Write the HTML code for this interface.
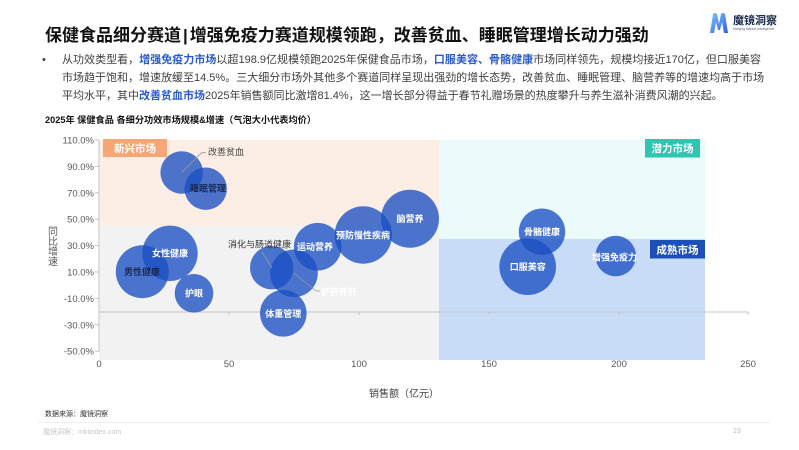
<!DOCTYPE html>
<html><head><meta charset="utf-8">
<style>
html,body{margin:0;padding:0;background:#fff;}
body{width:799px;height:450px;position:relative;overflow:hidden;font-family:"Liberation Sans","Noto Sans CJK SC",sans-serif;}
.abs{position:absolute;white-space:nowrap;}
.title{left:45px;top:24px;font-size:17px;font-weight:bold;color:#111;line-height:24px;}
.body{left:62px;top:51px;width:699px;font-size:11px;color:#404040;line-height:18px;}
.body div{text-align:justify;text-align-last:justify;white-space:nowrap;}
.body div.last{text-align-last:left;}
.hl{color:#2a5cc9;font-weight:bold;}
.bullet{left:42px;top:51px;font-size:11px;line-height:18px;color:#404040;}
.sub{left:45px;top:113px;font-size:9.2px;font-weight:bold;color:#111;line-height:14px;}
</style></head><body>

<div class="abs title">保健食品细分赛道<span style="margin:0 2px">|</span>增强免疫力赛道规模领跑，改善贫血、睡眠管理增长动力强劲</div>

<div class="abs bullet">•</div>
<div class="abs body">
<div>从功效类型看，<span class="hl">增强免疫力市场</span>以超198.9亿规模领跑2025年保健食品市场，<span class="hl">口服美容、骨骼健康</span>市场同样领先，规模均接近170亿，但口服美容</div>
<div>市场趋于饱和，增速放缓至14.5%。三大细分市场外其他多个赛道同样呈现出强劲的增长态势，改善贫血、睡眠管理、脑营养等的增速均高于市场</div>
<div class="last">平均水平，其中<span class="hl">改善贫血市场</span>2025年销售额同比激增81.4%，这一增长部分得益于春节礼赠场景的热度攀升与养生滋补消费风潮的兴起。</div>
</div>

<div class="abs sub">2025年 保健食品 各细分功效市场规模&amp;增速（气泡大小代表均价）</div>

<svg class="abs" style="left:0;top:0" width="799" height="450" viewBox="0 0 799 450" xmlns="http://www.w3.org/2000/svg" font-family="Liberation Sans, Noto Sans CJK SC, sans-serif">
<defs>
<linearGradient id="lg" x1="0" y1="0" x2="1" y2="1">
<stop offset="0" stop-color="#7cc3ff"/>
<stop offset="1" stop-color="#2d5fe6"/>
</linearGradient>
</defs>
<!-- logo -->
<path d="M710 33 L713 14 Q715 12 717 14 L719 24 L721 14 Q723 12 725 14 L728 33 L724 33 L722 22 L720 30 L718 30 L716 22 L714 33 Z" fill="url(#lg)"/>
<text x="733" y="24" font-size="11" font-weight="bold" fill="#1a2a4a">魔镜洞察</text>
<text x="733" y="30" font-size="3.4" fill="#667">Maojing Market Intelligence</text>

<!-- quadrants -->
<rect x="99" y="140" width="340" height="86" fill="#fdeee5"/>
<rect x="99" y="226" width="340" height="134" fill="#f2f2f2"/>
<rect x="439" y="140" width="266" height="99" fill="#ebfbfb"/>
<rect x="439" y="239" width="266" height="121" fill="#c9dcf7"/>

<!-- axes -->
<g stroke="#c4c4c4" stroke-width="1" fill="none">
<line x1="99" y1="140" x2="99" y2="351.5"/>
<line x1="95" y1="140" x2="99" y2="140"/>
<line x1="95" y1="166.4" x2="99" y2="166.4"/>
<line x1="95" y1="192.8" x2="99" y2="192.8"/>
<line x1="95" y1="219.2" x2="99" y2="219.2"/>
<line x1="95" y1="245.6" x2="99" y2="245.6"/>
<line x1="95" y1="272" x2="99" y2="272"/>
<line x1="95" y1="298.4" x2="99" y2="298.4"/>
<line x1="95" y1="324.8" x2="99" y2="324.8"/>
<line x1="95" y1="351.2" x2="99" y2="351.2"/>
<line x1="99" y1="312" x2="748" y2="312"/>
<line x1="229" y1="312" x2="229" y2="315"/>
<line x1="359" y1="312" x2="359" y2="315"/>
<line x1="489" y1="312" x2="489" y2="315"/>
<line x1="619" y1="312" x2="619" y2="315"/>
<line x1="748" y1="312" x2="748" y2="315"/>
</g>

<g font-size="9.5" fill="#595959" text-anchor="end">
<text x="94" y="143.5">110.0%</text>
<text x="94" y="169.9">90.0%</text>
<text x="94" y="196.3">70.0%</text>
<text x="94" y="222.7">50.0%</text>
<text x="94" y="249.1">30.0%</text>
<text x="94" y="275.5">10.0%</text>
<text x="94" y="301.9">-10.0%</text>
<text x="94" y="328.3">-30.0%</text>
<text x="94" y="354.7">-50.0%</text>
</g>
<g font-size="9.5" fill="#595959" text-anchor="middle">
<text x="99" y="367">0</text>
<text x="229" y="367">50</text>
<text x="359" y="367">100</text>
<text x="489" y="367">150</text>
<text x="619" y="367">200</text>
<text x="748" y="367">250</text>
</g>

<!-- axis titles -->
<g font-size="10" fill="#595959" text-anchor="middle">
<text x="53" y="235">同</text>
<text x="53" y="245">比</text>
<text x="53" y="255">增</text>
<text x="53" y="265">速</text>
</g>
<text x="404" y="397" font-size="10" fill="#404040" text-anchor="middle">销售额（亿元）</text>

<!-- tags -->
<rect x="103" y="139" width="64" height="18" fill="#f8a676"/>
<text x="135" y="152" font-size="10.5" fill="#fff" text-anchor="middle" font-weight="bold">新兴市场</text>
<rect x="645" y="139" width="55" height="18.5" fill="#2ec5b1"/>
<text x="672.5" y="152" font-size="10.5" fill="#fff" text-anchor="middle" font-weight="bold">潜力市场</text>
<rect x="650" y="240" width="55" height="18.5" fill="#1c4fb8"/>
<text x="677.5" y="253.5" font-size="10.5" fill="#fff" text-anchor="middle" font-weight="bold">成熟市场</text>

<!-- bubbles -->
<g fill="#1950c3" fill-opacity="0.78">
<circle cx="181.7" cy="172.5" r="21.3"/>
<circle cx="205.7" cy="188.7" r="21.2"/>
<circle cx="142.3" cy="271.7" r="26.5"/>
<circle cx="170" cy="253.3" r="27.7"/>
<circle cx="194" cy="293.3" r="19.3"/>
<circle cx="271.7" cy="267.7" r="21.7"/>
<circle cx="294" cy="273.3" r="23.8"/>
<circle cx="283.3" cy="313.3" r="23.3"/>
<circle cx="317.7" cy="246.7" r="23.8"/>
<circle cx="363.3" cy="235" r="28.7"/>
<circle cx="410" cy="218.7" r="29"/>
<circle cx="542" cy="231.7" r="23.2"/>
<circle cx="527.7" cy="266.7" r="28.3"/>
<circle cx="615.7" cy="256" r="20.3"/>
</g>

<!-- leader lines -->
<g stroke="#9a9a9a" stroke-width="0.8" fill="none">
<polyline points="181.7,172.3 201.7,152.7 206,152.7"/>
<polyline points="262,252 272,268"/>
<polyline points="294,273 316,291 320,291"/>
</g>

<!-- labels -->
<g font-size="9" text-anchor="middle" font-weight="bold">
<text x="226" y="155" fill="#404040" font-weight="normal">改善贫血</text>
<text x="208" y="191.5" fill="#1b2a55">睡眠管理</text>
<text x="142" y="275" fill="#1b2a55">男性健康</text>
<text x="170" y="256.5" fill="#fff">女性健康</text>
<text x="194" y="296.5" fill="#fff">护眼</text>
<text x="259.5" y="247.5" fill="#333" font-weight="normal">消化与肠道健康</text>
<text x="339" y="295" fill="#fff">护肝养肝</text>
<text x="283.3" y="317" fill="#fff">体重管理</text>
<text x="315" y="250" fill="#fff">运动营养</text>
<text x="363" y="238.5" fill="#fff">预防慢性疾病</text>
<text x="410" y="222" fill="#fff">脑营养</text>
<text x="542" y="235" fill="#fff">骨骼健康</text>
<text x="527.7" y="270" fill="#fff">口服美容</text>
<text x="614.5" y="260.5" fill="#fff">增强免疫力</text>
</g>

<!-- footer -->
<text x="45" y="416" font-size="7" fill="#333">数据来源：魔镜洞察</text>
<line x1="38" y1="422.5" x2="770" y2="422.5" stroke="#eeeeee" stroke-width="1"/>
<text x="43" y="434" font-size="7" fill="#c8c8c8">魔镜洞察：mktindex.com</text>
<text x="733" y="433" font-size="7" fill="#bbb">23</text>
</svg>
</body></html>
